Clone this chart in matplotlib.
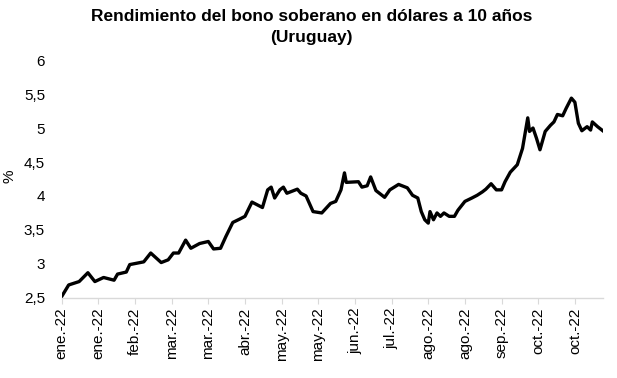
import pandas as pd
import matplotlib.pyplot as plt
from matplotlib.ticker import FuncFormatter

# Data (10-year USD sovereign bond yield, Uruguay, %)
dates = [
    "2022-01-03", "2022-01-07", "2022-01-13", "2022-01-18", "2022-01-22", "2022-01-27",
    "2022-02-02", "2022-02-04", "2022-02-09", "2022-02-11", "2022-02-19", "2022-02-23",
    "2022-03-01", "2022-03-05", "2022-03-08", "2022-03-11", "2022-03-15", "2022-03-18",
    "2022-03-23", "2022-03-28", "2022-03-31", "2022-04-04", "2022-04-07", "2022-04-11",
    "2022-04-15", "2022-04-18", "2022-04-22", "2022-04-28", "2022-05-01", "2022-05-03",
    "2022-05-05", "2022-05-08", "2022-05-10", "2022-05-12", "2022-05-18", "2022-05-20",
    "2022-05-23", "2022-05-27", "2022-06-01", "2022-06-06", "2022-06-09", "2022-06-12",
    "2022-06-14", "2022-06-15", "2022-06-22", "2022-06-24", "2022-06-27", "2022-06-29",
    "2022-07-02", "2022-07-07", "2022-07-10", "2022-07-15", "2022-07-20", "2022-07-23",
    "2022-07-26", "2022-07-28", "2022-07-30", "2022-08-01", "2022-08-02", "2022-08-04",
    "2022-08-06", "2022-08-08", "2022-08-10", "2022-08-13", "2022-08-16", "2022-08-18",
    "2022-08-22", "2022-08-26", "2022-08-29", "2022-09-01", "2022-09-03", "2022-09-06",
    "2022-09-09", "2022-09-12", "2022-09-14", "2022-09-17", "2022-09-21", "2022-09-24",
    "2022-09-27", "2022-09-28", "2022-09-30", "2022-10-02", "2022-10-04", "2022-10-07",
    "2022-10-10", "2022-10-12", "2022-10-14", "2022-10-17", "2022-10-19", "2022-10-22",
    "2022-10-24", "2022-10-26", "2022-10-28", "2022-10-31", "2022-11-02", "2022-11-03",
    "2022-11-06", "2022-11-09",
]
yields = [
    2.52, 2.69, 2.74, 2.87, 2.74, 2.80,
    2.76, 2.85, 2.88, 2.99, 3.03, 3.16,
    3.02, 3.06, 3.16, 3.16, 3.35, 3.23,
    3.30, 3.33, 3.22, 3.23, 3.40, 3.61,
    3.66, 3.70, 3.91, 3.83, 4.09, 4.13,
    3.97, 4.09, 4.13, 4.04, 4.10, 4.04,
    4.00, 3.77, 3.75, 3.89, 3.92, 4.09,
    4.34, 4.20, 4.21, 4.13, 4.15, 4.28,
    4.08, 3.98, 4.09, 4.17, 4.12, 4.01,
    3.97, 3.77, 3.65, 3.60, 3.77, 3.65,
    3.75, 3.70, 3.75, 3.70, 3.70, 3.79,
    3.92, 3.97, 4.01, 4.06, 4.10, 4.18,
    4.09, 4.09, 4.21, 4.35, 4.46, 4.70,
    5.15, 4.95, 5.00, 4.85, 4.68, 4.95,
    5.04, 5.09, 5.20, 5.18, 5.29, 5.44,
    5.38, 5.07, 4.96, 5.02, 4.97, 5.09,
    5.02, 4.96,
]
meses = ["ene", "feb", "mar", "abr", "may", "jun",
         "jul", "ago", "sep", "oct", "nov", "dic"]
yticks = [2.5, 3, 3.5, 4, 4.5, 5, 5.5, 6]

plt.rcParams['font.family'] = ['Liberation Sans', 'DejaVu Sans']

x = pd.to_datetime(dates)

fig = plt.figure(figsize=(6.17, 3.78), dpi=100)
ax = fig.add_axes([0.100, 0.212, 0.877, 0.629])

ax.plot(x, yields, color='black', linewidth=2.4, solid_joinstyle='round')

# Excel style date axis: a tick every 3 weeks
ticks = pd.date_range("2022-01-03", periods=15, freq="21D")
ax.set_xticks(ticks)
ax.set_xticklabels([f"{meses[t.month - 1]}.-22" for t in ticks], rotation=90, fontsize=11)
ax.set_xlim(x[0], x[-1])

ax.set_ylim(2.5, 6)
ax.set_yticks(yticks)
ax.yaxis.set_major_formatter(FuncFormatter(lambda v, p: f"{v:g}".replace('.', ',')))
ax.tick_params(axis='y', length=0, labelsize=11, pad=12)
ax.tick_params(axis='x', length=4, color='#d9d9d9', pad=3)

for s in ['top', 'right', 'left']:
    ax.spines[s].set_visible(False)
ax.spines['bottom'].set_color('#d9d9d9')
ax.spines['bottom'].set_linewidth(1)

ax.set_ylabel('%', fontsize=11)
ax.yaxis.set_label_coords(-0.083, 0.51)

fig.suptitle("Rendimiento del bono soberano en dólares a 10 años\n(Uruguay)",
             fontsize=12.5, fontweight='bold', x=0.505, y=0.975, linespacing=1.5)

fig.savefig('out.png', dpi=100)
